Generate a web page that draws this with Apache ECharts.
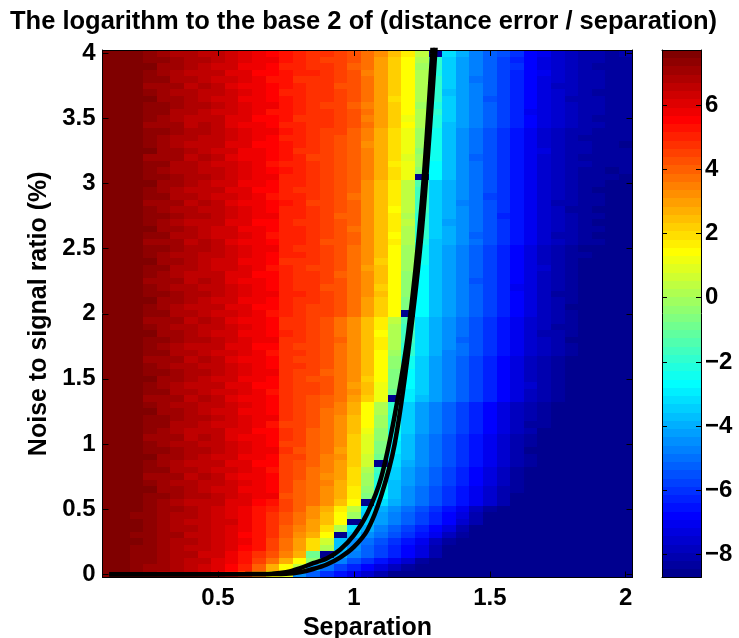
<!DOCTYPE html>
<html><head><meta charset="utf-8">
<script src="https://cdn.jsdelivr.net/npm/echarts@6/dist/echarts.min.js"></script>
<style>html,body{margin:0;padding:0;background:#fff}#c{width:739px;height:638px}</style>
</head><body><div id="c"></div>
<script>
// ---------------- data ----------------
const separation = [0.10,0.15,0.20,0.25,0.30,0.35,0.40,0.45,0.50,0.55,0.60,0.65,0.70,0.75,0.80,0.85,0.90,0.95,1.00,1.05,1.10,1.15,1.20,1.25,1.30,1.35,1.40,1.45,1.50,1.55,1.60,1.65,1.70,1.75,1.80,1.85,1.90,1.95,2.00];
// rows listed top (4.00) to bottom (0.00)
const noiseRatio = [4.00,3.95,3.90,3.85,3.80,3.75,3.70,3.65,3.60,3.55,3.50,3.45,3.40,3.35,3.30,3.25,3.20,3.15,3.10,3.05,3.00,2.95,2.90,2.85,2.80,2.75,2.70,2.65,2.60,2.55,2.50,2.45,2.40,2.35,2.30,2.25,2.20,2.15,2.10,2.05,2.00,1.95,1.90,1.85,1.80,1.75,1.70,1.65,1.60,1.55,1.50,1.45,1.40,1.35,1.30,1.25,1.20,1.15,1.10,1.05,1.00,0.95,0.90,0.85,0.80,0.75,0.70,0.65,0.60,0.55,0.50,0.45,0.40,0.35,0.30,0.25,0.20,0.15,0.10,0.05,0.00];
const colourLimits = [-8.72, 7.72];
// colour level (1..64 of the 64-step colour bar) read for every cell, one row per noise ratio
const errorLevelRows = [
[64,64,64,63,62,61,61,60,60,59,58,57,56,55,54,53,53,52,51,49,47,44,41,36,1,22,19,16,14,13,11,8,7,5,4,3,3,2,3],
[64,64,64,63,63,62,61,61,60,59,58,57,57,55,54,53,52,52,51,49,46,43,40,35,27,21,18,16,14,12,10,8,6,5,4,3,3,2,2],
[64,64,64,64,62,62,61,60,59,59,57,57,56,54,54,53,53,52,50,49,46,43,40,34,27,21,18,16,14,12,11,8,6,5,4,3,2,2,2],
[64,64,64,63,62,61,60,60,60,58,58,56,56,55,54,54,53,52,51,48,46,43,40,35,26,21,18,16,14,12,10,8,7,5,4,3,3,2,2],
[64,64,64,63,63,61,61,60,59,59,58,57,55,55,53,53,53,52,51,49,46,43,40,35,27,21,18,15,14,12,10,8,6,5,4,3,3,2,2],
[64,64,64,62,62,62,60,61,60,58,57,57,56,55,54,53,53,51,51,49,46,43,40,35,27,21,18,16,14,12,10,8,6,4,4,3,3,2,2],
[64,64,64,63,62,61,61,60,60,59,58,57,56,54,54,53,53,52,51,49,46,43,40,35,27,20,18,16,14,12,10,8,6,5,4,3,2,2,2],
[64,64,64,64,62,62,61,60,59,59,57,57,56,55,54,53,53,52,51,49,46,42,40,35,27,21,18,16,13,12,10,8,6,5,3,3,3,2,2],
[64,64,64,63,63,62,61,61,60,59,58,57,57,55,54,53,52,52,50,48,46,43,40,34,26,21,18,16,14,12,10,8,6,5,4,3,3,2,2],
[64,64,64,63,63,61,61,60,59,59,58,57,55,55,54,53,53,52,51,49,46,43,40,35,27,21,18,16,14,12,10,7,6,5,4,3,3,2,2],
[64,64,64,63,62,61,60,60,60,58,58,56,56,55,53,53,53,52,51,48,46,43,39,35,26,21,18,16,14,12,10,8,6,5,4,3,2,2,2],
[64,64,64,62,62,62,60,61,60,58,57,57,56,54,54,53,53,52,51,49,46,43,40,35,26,20,18,16,14,12,10,8,6,5,4,3,3,2,2],
[64,64,64,63,63,62,61,61,60,59,58,57,57,55,54,53,52,52,50,48,45,42,39,34,25,20,17,15,13,11,9,7,5,4,3,3,2,2,2],
[64,64,64,63,62,61,61,60,60,59,58,57,56,54,54,53,52,51,50,48,45,42,39,34,25,20,17,15,13,11,9,7,5,4,3,2,2,2,2],
[64,64,64,63,62,61,60,60,60,58,58,56,56,55,54,53,52,51,50,47,45,42,39,34,25,20,17,15,13,11,9,7,5,4,3,3,2,2,1],
[64,64,64,64,62,62,61,60,59,59,57,57,56,55,53,53,52,51,50,48,45,42,39,33,25,20,17,15,13,11,9,7,6,4,3,3,2,2,2],
[64,64,64,62,62,62,60,61,60,58,57,57,56,55,54,52,52,51,50,48,45,42,38,34,25,20,17,14,13,11,9,7,5,4,3,2,2,2,2],
[64,64,64,63,63,61,61,60,59,59,58,57,55,54,54,53,52,51,50,48,45,41,39,34,24,20,17,15,13,11,9,7,5,4,3,3,2,2,2],
[64,64,64,63,62,61,61,60,60,59,58,57,56,55,54,53,52,51,50,48,45,42,39,33,24,20,17,15,13,11,9,7,5,4,3,2,2,1,2],
[64,64,64,63,63,62,61,61,60,59,58,57,57,54,54,53,52,51,50,48,45,42,39,1,24,20,17,15,13,11,9,7,5,4,3,2,2,2,1],
[64,64,64,64,62,62,61,60,59,59,57,57,56,54,54,53,52,51,50,47,44,41,36,29,21,19,17,15,13,11,9,7,5,4,3,2,2,1,1],
[64,64,64,63,62,61,60,60,60,58,58,56,56,54,53,53,52,51,50,47,44,41,36,28,21,19,17,15,13,11,9,7,5,4,3,2,1,1,1],
[64,64,64,63,63,61,61,60,59,59,58,57,55,54,54,53,52,51,49,47,44,41,36,28,21,19,17,15,12,11,9,7,5,4,3,2,2,1,1],
[64,64,64,62,62,62,60,61,60,58,57,57,56,55,54,52,52,51,50,47,44,41,36,28,21,19,16,15,13,11,9,7,5,3,3,2,2,1,1],
[64,64,64,63,62,61,61,60,60,59,58,57,56,54,54,53,52,51,50,47,44,40,36,28,21,19,17,15,13,11,9,7,5,4,2,2,1,1,1],
[64,64,64,63,63,62,61,61,60,59,58,57,57,54,54,53,52,50,50,47,44,41,35,27,21,19,17,15,13,10,9,7,5,4,3,2,2,1,1],
[64,64,64,63,62,61,60,60,60,58,58,56,56,54,53,53,52,51,50,47,44,41,36,27,21,18,17,15,13,11,9,7,5,4,3,2,1,1,1],
[64,64,64,64,62,62,61,60,59,59,57,57,56,54,54,53,52,51,49,47,44,41,35,27,21,19,17,15,13,11,9,7,5,4,3,2,2,1,1],
[64,64,64,63,63,61,61,60,59,59,58,57,55,54,54,53,52,51,50,47,44,40,35,27,21,19,17,14,13,11,9,7,5,3,3,2,1,1,1],
[64,64,64,62,62,62,60,61,60,58,57,57,56,54,54,53,51,51,50,47,44,41,35,26,20,19,17,15,13,11,9,7,5,4,3,2,2,1,1],
[64,64,64,63,63,62,61,61,60,59,58,57,57,54,53,53,52,51,49,47,44,40,34,25,20,18,16,14,12,10,8,6,4,3,2,1,1,1,1],
[64,64,64,63,62,61,61,60,60,59,58,57,56,54,54,53,52,51,49,47,44,40,34,25,20,18,16,14,12,10,8,6,4,3,2,2,1,1,1],
[64,64,64,64,62,62,61,60,59,59,57,57,56,53,53,53,52,51,49,47,43,40,34,25,20,18,16,14,12,10,8,6,4,3,2,1,1,1,1],
[64,64,64,63,63,61,61,60,59,59,58,57,55,54,53,52,52,51,49,46,44,40,34,24,20,18,16,14,12,10,8,6,5,3,2,1,1,1,1],
[64,64,64,63,62,61,60,60,60,58,58,56,56,54,53,53,52,50,49,47,44,40,33,24,20,18,16,14,12,10,8,6,4,3,2,1,1,1,1],
[64,64,64,62,62,62,60,61,60,58,57,57,56,54,53,53,52,51,49,47,44,40,33,24,20,18,16,13,12,10,8,6,4,3,2,1,1,1,1],
[64,64,64,63,62,61,61,60,60,59,58,57,56,54,53,53,51,51,49,47,43,40,33,24,20,18,16,14,12,10,7,6,4,3,2,1,1,1,1],
[64,64,64,63,63,62,61,61,60,59,58,57,57,54,54,53,52,51,49,47,44,40,33,24,20,18,16,14,12,10,8,6,4,2,2,1,1,1,1],
[64,64,64,64,62,62,61,60,59,59,57,57,56,54,53,53,52,51,49,46,43,40,32,24,20,18,16,14,12,10,8,6,4,3,2,1,1,1,1],
[64,64,64,63,62,61,60,60,60,58,58,56,56,54,53,52,52,51,49,46,43,40,32,24,20,18,16,14,12,10,8,6,4,3,1,1,1,1,1],
[64,64,64,63,63,61,61,60,59,59,58,57,55,54,53,52,52,51,49,46,43,40,1,24,20,18,16,14,12,10,8,6,4,3,2,1,1,1,1],
[64,64,64,62,62,62,60,61,60,58,57,57,56,53,53,52,51,49,47,44,41,36,29,22,19,17,15,13,11,9,7,5,4,3,2,1,1,1,1],
[64,64,64,63,62,61,61,60,60,59,58,57,56,53,53,52,51,49,47,44,41,35,28,22,19,17,15,13,11,9,7,5,4,2,2,1,1,1,1],
[64,64,64,64,62,62,61,60,59,59,57,57,56,54,53,52,51,49,47,44,40,35,28,22,19,17,15,13,11,9,7,5,3,3,2,1,1,1,1],
[64,64,64,63,63,62,61,61,60,59,58,57,57,53,53,52,51,50,47,44,41,35,28,22,19,17,14,13,11,9,7,5,4,3,1,1,1,1,1],
[64,64,64,63,62,61,60,60,60,58,58,56,56,53,52,52,51,49,47,44,41,35,27,22,19,17,15,13,11,9,7,5,4,3,2,1,1,1,1],
[64,64,64,63,63,61,61,60,59,59,58,57,55,53,53,52,51,49,47,44,40,34,27,22,19,16,15,13,11,9,7,5,4,3,2,1,1,1,1],
[64,64,64,62,62,62,60,61,60,58,57,57,56,53,52,52,51,49,47,44,40,33,25,21,18,16,14,12,10,8,6,4,3,2,1,1,1,1,1],
[64,64,64,63,62,61,61,60,60,59,58,57,56,53,53,52,51,49,47,44,40,33,25,21,18,16,14,12,10,8,6,4,3,2,1,1,1,1,1],
[64,64,64,63,63,62,61,61,60,59,58,57,57,53,52,52,50,49,47,44,40,32,24,21,18,16,14,12,10,8,6,4,3,2,1,1,1,1,1],
[64,64,64,64,62,62,61,60,59,59,57,57,56,53,52,51,51,49,47,43,40,32,24,21,18,16,14,12,10,8,6,4,3,2,1,1,1,1,1],
[64,64,64,63,62,61,60,60,60,58,58,56,56,53,52,52,51,49,46,44,39,32,24,21,18,16,14,12,10,8,6,5,3,2,1,1,1,1,1],
[64,64,64,63,63,61,61,60,59,59,58,57,55,53,52,52,51,49,47,44,39,31,23,21,18,16,14,12,10,8,6,4,3,2,1,1,1,1,1],
[64,64,64,62,62,62,60,61,60,58,57,57,56,53,52,51,50,49,46,43,39,1,23,20,18,16,14,12,10,8,6,4,3,2,1,1,1,1,1],
[64,64,64,63,62,61,61,60,60,59,58,57,56,53,52,51,50,48,45,40,35,27,21,18,16,14,12,10,8,6,4,3,2,1,1,1,1,1,1],
[64,64,64,64,62,62,61,60,59,59,57,57,56,53,52,51,49,48,45,40,35,27,21,18,16,14,12,10,8,6,4,3,2,1,1,1,1,1,1],
[64,64,64,63,63,62,61,61,60,59,58,57,57,53,52,51,49,47,44,40,34,26,21,18,16,14,12,10,8,6,4,3,2,1,1,1,1,1,1],
[64,64,64,63,63,61,61,60,59,59,58,57,55,52,52,51,49,47,44,40,34,26,21,18,16,14,12,10,8,6,4,2,2,1,1,1,1,1,1],
[64,64,64,63,62,61,60,60,60,58,58,56,56,53,52,50,49,47,44,39,33,25,21,18,16,14,12,10,8,6,4,3,1,1,1,1,1,1,1],
[64,64,64,62,62,62,60,61,60,58,57,57,56,53,52,50,49,47,43,38,33,24,20,17,15,13,11,9,7,5,3,2,1,1,1,1,1,1,1],
[64,64,64,63,62,61,61,60,60,59,58,57,56,52,52,50,49,47,43,38,32,23,20,17,15,13,11,9,7,5,3,2,1,1,1,1,1,1,1],
[64,64,64,63,63,62,61,61,60,59,58,57,57,53,51,50,49,46,43,38,32,23,20,17,15,13,11,9,7,5,3,1,1,1,1,1,1,1,1],
[64,64,64,64,62,62,61,60,59,59,57,57,56,52,52,50,48,47,43,37,31,22,20,17,15,13,11,9,7,5,3,2,1,1,1,1,1,1,1],
[64,64,64,63,62,61,60,60,60,58,58,56,56,52,51,50,48,46,43,37,1,22,19,17,15,13,11,9,7,5,3,2,1,1,1,1,1,1,1],
[64,64,64,63,63,61,61,60,59,59,58,57,55,52,51,49,48,46,42,35,28,21,18,16,14,12,10,8,6,4,2,1,1,1,1,1,1,1,1],
[64,64,64,62,62,62,60,61,60,58,57,57,56,52,51,49,47,46,42,34,27,21,18,16,14,12,10,8,6,4,2,1,1,1,1,1,1,1,1],
[64,64,64,63,62,61,61,60,60,59,58,57,56,52,50,49,48,45,42,34,26,20,18,16,14,12,10,8,6,4,2,1,1,1,1,1,1,1,1],
[64,64,64,64,62,62,61,60,59,59,57,57,56,52,50,49,47,45,41,33,25,20,17,15,13,11,9,7,5,3,2,1,1,1,1,1,1,1,1],
[64,64,64,63,63,62,61,61,60,59,58,57,57,51,50,49,47,45,41,32,24,20,17,15,13,11,9,7,5,3,1,1,1,1,1,1,1,1,1],
[64,64,64,63,62,61,60,60,60,58,58,56,55,52,50,49,47,44,40,1,22,19,17,15,13,11,9,7,5,3,1,1,1,1,1,1,1,1,1],
[64,64,64,63,62,62,61,60,59,58,57,55,54,52,50,47,45,41,36,22,19,17,15,13,11,9,7,4,2,1,1,1,1,1,1,1,1,1,1],
[64,64,63,63,62,61,61,60,59,58,57,55,53,51,49,47,44,40,34,21,18,16,14,12,10,8,6,3,1,1,1,1,1,1,1,1,1,1,1],
[64,64,64,63,62,61,60,60,59,59,57,55,53,51,49,46,44,40,1,21,18,16,14,12,10,8,5,3,1,1,1,1,1,1,1,1,1,1,1],
[64,64,64,63,62,61,61,60,59,58,57,55,53,50,48,46,42,35,22,19,16,14,12,10,8,6,3,1,1,1,1,1,1,1,1,1,1,1,1],
[64,64,63,63,62,62,60,60,59,58,56,55,53,50,47,45,40,1,20,17,15,13,11,9,7,4,2,1,1,1,1,1,1,1,1,1,1,1,1],
[64,64,64,63,62,61,61,60,59,58,57,55,52,49,46,42,37,20,17,15,13,11,9,7,4,2,1,1,1,1,1,1,1,1,1,1,1,1,1],
[64,64,63,63,62,61,60,60,59,58,56,55,52,49,46,42,35,20,17,14,12,10,8,6,3,1,1,1,1,1,1,1,1,1,1,1,1,1,1],
[64,64,63,63,62,61,61,59,59,57,55,53,51,48,45,31,1,19,16,14,12,10,8,6,3,1,1,1,1,1,1,1,1,1,1,1,1,1,1],
[64,64,63,63,62,61,60,60,58,57,55,52,49,45,40,33,19,16,13,11,9,7,5,2,1,1,1,1,1,1,1,1,1,1,1,1,1,1,1],
[64,64,63,62,62,61,60,59,58,56,54,50,45,40,36,18,15,12,10,8,6,4,2,1,1,1,1,1,1,1,1,1,1,1,1,1,1,1,1],
[64,64,63,62,61,61,60,59,57,55,52,47,40,38,17,14,11,9,7,5,3,1,1,1,1,1,1,1,1,1,1,1,1,1,1,1,1,1,1]
];
const xTicks = [0.5, 1, 1.5, 2];
const yTicks = [0, 0.5, 1, 1.5, 2, 2.5, 3, 3.5, 4];
const barTicks = [-8, -6, -4, -2, 0, 2, 4, 6];
// the two black boundary curves
const curveLeftX  = [0.10, 0.60, 0.70, 0.75, 0.80, 0.85, 0.90, 0.95, 1.00, 1.05, 1.10, 1.15, 1.20, 1.25, 1.288, 1.30];
const curveLeftY  = [0.000,0.001,0.004,0.015,0.045,0.085,0.120,0.190,0.300,0.470,0.740,1.220,1.860,2.860,4.000,4.450];
const curveRightX = [0.10, 0.70, 0.75, 0.80, 0.85, 0.90, 0.95, 1.00, 1.05, 1.10, 1.15, 1.20, 1.25, 1.30, 1.32];
const curveRightY = [0.000,0.001,0.003,0.015,0.040,0.075,0.130,0.210,0.340,0.600,1.000,1.710,2.640,4.030,4.800];

// ---------------- build ----------------
errorLevelRows.forEach((r, i) => { if (r.length !== separation.length) throw new Error('row ' + i + ' has ' + r.length); });
if (errorLevelRows.length !== noiseRatio.length) throw new Error('rows ' + errorLevelRows.length);

const [cMin, cMax] = colourLimits;
const nLev = 64;
const levStep = (cMax - cMin) / nLev;
function jet(i) { // i = 1..64, MATLAB jet(64)
  const r = i <= 24 ? 0 : i <= 40 ? (i - 24) / 16 : i <= 56 ? 1 : (72 - i) / 16;
  const g = i <= 8 ? 0 : i <= 24 ? (i - 8) / 16 : i <= 40 ? 1 : i <= 56 ? (56 - i) / 16 : 0;
  const b = i <= 8 ? (8 + i) / 16 : i <= 24 ? 1 : i <= 40 ? (40 - i) / 16 : 0;
  return 'rgb(' + Math.round(r * 255) + ',' + Math.round(g * 255) + ',' + Math.round(b * 255) + ')';
}
function colourOf(v) {
  let i = Math.floor((v - cMin) / (cMax - cMin) * nLev) + 1;
  i = Math.max(1, Math.min(nLev, i));
  return jet(i);
}
const cells = [];
errorLevelRows.forEach((row, ri) => row.forEach((lev, ci) => {
  cells.push([separation[ci], noiseRatio[ri], +(cMin + (lev - 0.5) * levStep).toFixed(3)]);
}));
const halfX = (separation[1] - separation[0]) / 2;
const halfY = Math.abs(noiseRatio[0] - noiseRatio[1]) / 2;
const xMin = separation[0] - halfX, xMax = separation[separation.length - 1] + halfX;
const yMin = Math.min(...noiseRatio) - halfY, yMax = Math.max(...noiseRatio) + halfY;

const barCells = [];
for (let k = 0; k < nLev; k++) barCells.push([0.5, cMin + (k + 0.5) * levStep]);

const FONT = "'Liberation Sans', Arial, Helvetica, sans-serif";
const lblStyle = { fontFamily: FONT, fontSize: 24, fontWeight: 'bold', color: '#000' };
const blackLine = { show: true, onZero: false, lineStyle: { color: '#000', width: 1 } };
const fmtNum = v => (Math.round(v * 100) / 100).toString();

function cellRender(params, api) {
  const x = api.value(0), y = api.value(1), v = api.value(2);
  const a = api.coord([x - halfX, y + halfY]);
  const b = api.coord([x + halfX, y - halfY]);
  const x0 = Math.round(a[0]), y0 = Math.round(a[1]), x1 = Math.round(b[0]), y1 = Math.round(b[1]);
  return { type: 'rect', shape: { x: x0, y: y0, width: x1 - x0, height: y1 - y0 }, style: { fill: colourOf(v) } };
}
function barRender(params, api) {
  const v = api.value(1);
  const a = api.coord([0, v + levStep / 2]);
  const b = api.coord([1, v - levStep / 2]);
  const y0 = Math.round(a[1]), y1 = Math.round(b[1]);
  return { type: 'rect', shape: { x: a[0], y: y0, width: b[0] - a[0], height: y1 - y0 }, style: { fill: colourOf(v) } };
}

const chart = echarts.init(document.getElementById('c'), null, { renderer: 'canvas' });
chart.setOption({
  animation: false,
  backgroundColor: '#fff',
  title: { text: 'The logarithm to the base 2 of (distance error / separation)', left: 5, top: 4,
    textStyle: { fontFamily: FONT, fontSize: 25.5, fontWeight: 'bold', color: '#000' } },
  grid: [
    { left: 102.5, top: 50, width: 530, height: 527.5, containLabel: false, outerBoundsMode: 'none' },
    { left: 662, top: 50, width: 39, height: 527.5, containLabel: false, outerBoundsMode: 'none' }
  ],
  xAxis: [
    { gridIndex: 0, type: 'value', min: xMin, max: xMax, position: 'bottom', z: 10,
      axisLine: blackLine,
      axisTick: { show: true, inside: true, length: 6, customValues: xTicks, lineStyle: { color: '#000' } },
      axisLabel: Object.assign({ show: true, customValues: xTicks, margin: 9, formatter: fmtNum }, lblStyle),
      splitLine: { show: false },
      name: 'Separation', nameLocation: 'middle', nameGap: 37,
      nameTextStyle: Object.assign({}, lblStyle, { fontSize: 25 }) },
    { gridIndex: 0, type: 'value', min: xMin, max: xMax, position: 'top', z: 10,
      axisLine: blackLine,
      axisTick: { show: true, inside: true, length: 6, customValues: xTicks, lineStyle: { color: '#000' } },
      axisLabel: { show: false }, splitLine: { show: false } },
    { gridIndex: 1, type: 'value', min: 0, max: 1, position: 'bottom', z: 10,
      axisLine: blackLine, axisTick: { show: false }, axisLabel: { show: false }, splitLine: { show: false } },
    { gridIndex: 1, type: 'value', min: 0, max: 1, position: 'top', z: 10,
      axisLine: blackLine, axisTick: { show: false }, axisLabel: { show: false }, splitLine: { show: false } }
  ],
  yAxis: [
    { gridIndex: 0, type: 'value', min: yMin, max: yMax, position: 'left', z: 10,
      axisLine: blackLine,
      axisTick: { show: true, inside: true, length: 6, customValues: yTicks, lineStyle: { color: '#000' } },
      axisLabel: Object.assign({ show: true, customValues: yTicks, margin: 7, formatter: fmtNum }, lblStyle),
      splitLine: { show: false },
      name: 'Noise to signal ratio (%)', nameLocation: 'middle', nameGap: 45,
      nameTextStyle: Object.assign({}, lblStyle, { fontSize: 25 }) },
    { gridIndex: 0, type: 'value', min: yMin, max: yMax, position: 'right', z: 10,
      axisLine: blackLine,
      axisTick: { show: true, inside: true, length: 6, customValues: yTicks, lineStyle: { color: '#000' } },
      axisLabel: { show: false }, splitLine: { show: false } },
    { gridIndex: 1, type: 'value', min: cMin, max: cMax, position: 'right', z: 10,
      axisLine: blackLine,
      axisTick: { show: true, inside: true, length: 5, customValues: barTicks, lineStyle: { color: '#000' } },
      axisLabel: Object.assign({ show: true, customValues: barTicks, margin: 4,
        formatter: v => (v < 0 ? '\u2212' + Math.abs(v) : String(v)) }, lblStyle),
      splitLine: { show: false } },
    { gridIndex: 1, type: 'value', min: cMin, max: cMax, position: 'left', z: 10,
      axisLine: blackLine,
      axisTick: { show: true, inside: true, length: 5, customValues: barTicks, lineStyle: { color: '#000' } },
      axisLabel: { show: false }, splitLine: { show: false } }
  ],
  series: [
    { type: 'custom', name: 'cells', xAxisIndex: 0, yAxisIndex: 0, data: cells, renderItem: cellRender, z: 2, silent: true },
    { type: 'line', name: 'boundary A', xAxisIndex: 0, yAxisIndex: 0, data: curveLeftX.map((x, i) => [x, curveLeftY[i]]),
      showSymbol: false, symbol: 'none', smooth: 0.3, clip: true, z: 5,
      lineStyle: { color: '#000', width: 4.5 } },
    { type: 'line', name: 'boundary B', xAxisIndex: 0, yAxisIndex: 0, data: curveRightX.map((x, i) => [x, curveRightY[i]]),
      showSymbol: false, symbol: 'none', smooth: 0.3, clip: true, z: 5,
      lineStyle: { color: '#000', width: 4.5 } },
    { type: 'custom', name: 'colourbar', xAxisIndex: 2, yAxisIndex: 2, data: barCells, renderItem: barRender, z: 2, silent: true }
  ]
});
</script>
</body></html>
